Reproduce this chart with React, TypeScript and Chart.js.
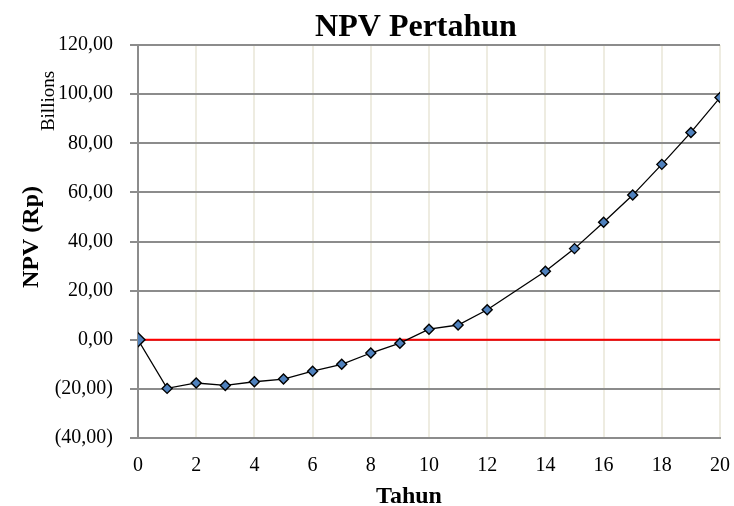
import React, { useEffect, useRef } from "react";
import { Chart, registerables } from "chart.js";

Chart.register(...registerables);

const years = [0, 1, 2, 3, 4, 5, 6, 7, 8, 9, 10, 11, 12, 14, 15, 16, 17, 18, 19, 20];
const npv = [0, -19.8, -17.6, -18.6, -17.1, -16.0, -12.8, -10.0, -5.4, -1.4, 4.3, 6.0, 12.2, 27.9, 37.1, 47.8, 58.9, 71.4, 84.4, 98.6];
const zeroLine = [0, 20];
const titleText = "NPV Pertahun";
const xTitle = "Tahun";
const yTitle = "NPV (Rp)";
const unitText = "Billions";

const SERIF = "'Liberation Serif', 'Times New Roman', serif";

const fmt = (v: number) => {
  const s = Math.abs(v).toFixed(2).replace(".", ",");
  return v < 0 ? `(${s})` : s;
};

const textPlugin = {
  id: "texts",
  afterDraw(chart: any) {
    const ctx = chart.ctx;
    ctx.save();
    ctx.fillStyle = "#000";
    ctx.textBaseline = "alphabetic";
    ctx.textAlign = "center";
    ctx.font = `bold 32px ${SERIF}`;
    ctx.fillText(titleText, 416, 36);
    ctx.font = `bold 24px ${SERIF}`;
    ctx.fillText(xTitle, 409, 503);
    ctx.save();
    ctx.translate(38, 237);
    ctx.rotate(-Math.PI / 2);
    ctx.font = `bold 24px ${SERIF}`;
    ctx.fillText(yTitle, 0, 0);
    ctx.restore();
    ctx.save();
    ctx.translate(54, 101);
    ctx.rotate(-Math.PI / 2);
    ctx.font = `19px ${SERIF}`;
    ctx.fillText(unitText, 0, 0);
    ctx.restore();
    ctx.restore();
  },
};

export default function App() {
  const ref = useRef<HTMLCanvasElement>(null);
  useEffect(() => {
    if (!ref.current) return;
    const chart = new Chart(ref.current, {
      type: "scatter",
      data: {
        datasets: [
          {
            data: years.map((x, i) => ({ x, y: npv[i] })),
            showLine: true,
            borderColor: "#000000",
            borderWidth: 1.3,
            pointStyle: "rectRot",
            pointRadius: years.map((x) => (x === 0 ? 7 : 5)),
            pointBackgroundColor: "#4F81BD",
            pointBorderColor: "#000000",
            pointBorderWidth: 1.4,
            order: 0,
          },
          {
            data: zeroLine.map((x) => ({ x, y: 0 })),
            showLine: true,
            borderColor: "#FF0000",
            borderWidth: 2,
            pointRadius: 0,
            order: 1,
          },
        ],
      },
      plugins: [textPlugin],
      options: {
        responsive: false,
        animation: false,
        layout: { padding: { top: 45, right: 14, left: 0, bottom: 0 } },
        plugins: {
          legend: { display: false },
          tooltip: { enabled: false },
          title: { display: false },
        },
        scales: {
          x: {
            type: "linear",
            min: 0,
            max: 20,
            afterFit: (s: any) => {
              s.height = 68;
              s.paddingRight = 0;
              s.paddingLeft = 0;
            },
            ticks: {
              stepSize: 2,
              color: "#000",
              font: { family: SERIF, size: 20 },
              padding: 16,
              maxRotation: 0,
            },
            grid: { color: "#EEECE1", lineWidth: 2, drawTicks: false },
            border: { color: "#8C8C8C", width: 2 },
          },
          y: {
            type: "linear",
            min: -40,
            max: 120,
            afterFit: (s: any) => {
              s.width = 138;
              s.paddingTop = 0;
              s.paddingBottom = 0;
            },
            ticks: {
              stepSize: 20,
              color: "#000",
              font: { family: SERIF, size: 20 },
              padding: 17,
              callback: (v: any) => fmt(Number(v)),
            },
            grid: { color: "#8C8C8C", lineWidth: 2, tickLength: 8 },
            border: { color: "#8C8C8C", width: 2 },
          },
        },
      },
    } as any);
    return () => chart.destroy();
  }, []);
  return (
    <div style={{ position: "absolute", left: 0, top: 0, width: 734, height: 506, background: "#fff" }}>
      <canvas ref={ref} width={734} height={506} />
    </div>
  );
}
